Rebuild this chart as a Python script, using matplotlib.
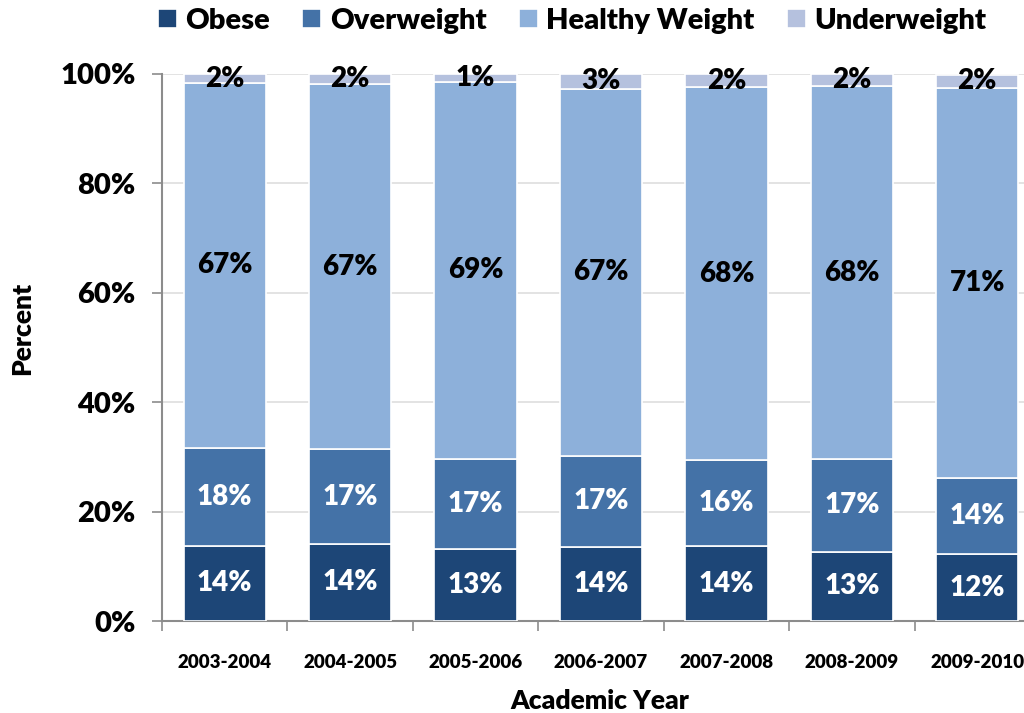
import matplotlib
matplotlib.use("Agg")
import matplotlib.pyplot as plt
import numpy as np

years = ["2003-2004", "2004-2005", "2005-2006", "2006-2007",
         "2007-2008", "2008-2009", "2009-2010"]
obese = [13.8, 14.1, 13.1, 13.6, 13.7, 12.7, 12.2]
overweight = [17.9, 17.3, 16.6, 16.6, 15.7, 16.9, 13.9]
healthy = [66.6, 66.8, 68.9, 67.1, 68.2, 68.2, 71.4]
underweight = [1.7, 1.8, 1.4, 2.7, 2.4, 2.2, 2.4]

series = [
    ("Obese", obese, "#1d4677", "white"),
    ("Overweight", overweight, "#4472a7", "white"),
    ("Healthy Weight", healthy, "#8db0da", "black"),
    ("Underweight", underweight, "#b5c1de", "black"),
]

plt.rcParams["font.family"] = ["Lato", "DejaVu Sans"]
plt.rcParams["font.weight"] = "heavy"
W = "heavy"

fig = plt.figure(figsize=(10.24, 7.13), dpi=100)
ax = fig.add_axes([162 / 1024, 1 - 621 / 713, 878 / 1024, 547 / 713])

x = np.arange(len(years))
bottom = np.zeros(len(years))
for name, vals, color, tcolor in series:
    vals = np.array(vals)
    ax.bar(x, vals, width=0.655, bottom=bottom, color=color,
           edgecolor="white", linewidth=1.2, label=name, zorder=3)
    for xi, b, v in zip(x, bottom, vals):
        ax.text(xi, b + v / 2, f"{v:.0f}%", ha="center", va="center",
                fontsize=20, fontweight=W, color=tcolor, zorder=4)
    bottom += vals

ax.set_xlim(-0.5, len(years) - 0.5)
ax.set_ylim(0, 100)
ax.set_yticks(np.arange(0, 101, 20))
ax.set_yticklabels([f"{v}%" for v in range(0, 101, 20)], fontsize=21,
                   fontweight=W)
ax.yaxis.grid(True, color="#dedede", linewidth=1.2, zorder=0)
ax.set_axisbelow(True)

# category boundaries as tick marks, labels at category centres
ax.set_xticks(np.arange(-0.5, len(years), 1.0))
ax.set_xticklabels([])
ax.set_xticks(x, minor=True)
ax.set_xticklabels(years, minor=True, fontsize=13.5, fontweight=W)
ax.tick_params(axis="x", which="major", length=7, color="#8c8c8c", width=1.2)
ax.tick_params(axis="x", which="minor", length=0, pad=24)
ax.tick_params(axis="y", length=7, color="#8c8c8c", width=1.2, pad=12)

for s in ["top", "right"]:
    ax.spines[s].set_visible(False)
for s in ["left", "bottom"]:
    ax.spines[s].set_color("#8c8c8c")
    ax.spines[s].set_linewidth(1.5)

fig.text(600 / 1024, 1 - 701 / 713, "Academic Year", ha="center",
         va="center", fontsize=19, fontweight=W)
fig.text(22 / 1024, 1 - 328 / 713, "Percent", ha="center", va="center",
         rotation=90, fontsize=19, fontweight=W)

fig.legend(loc="center", bbox_to_anchor=(572 / 1024, 1 - 21 / 713), ncol=4,
           frameon=False, handlelength=0.65, handleheight=0.65,
           handletextpad=0.3, columnspacing=1.1,
           prop={"weight": W, "size": 21})

fig.savefig("out.png", dpi=100)
